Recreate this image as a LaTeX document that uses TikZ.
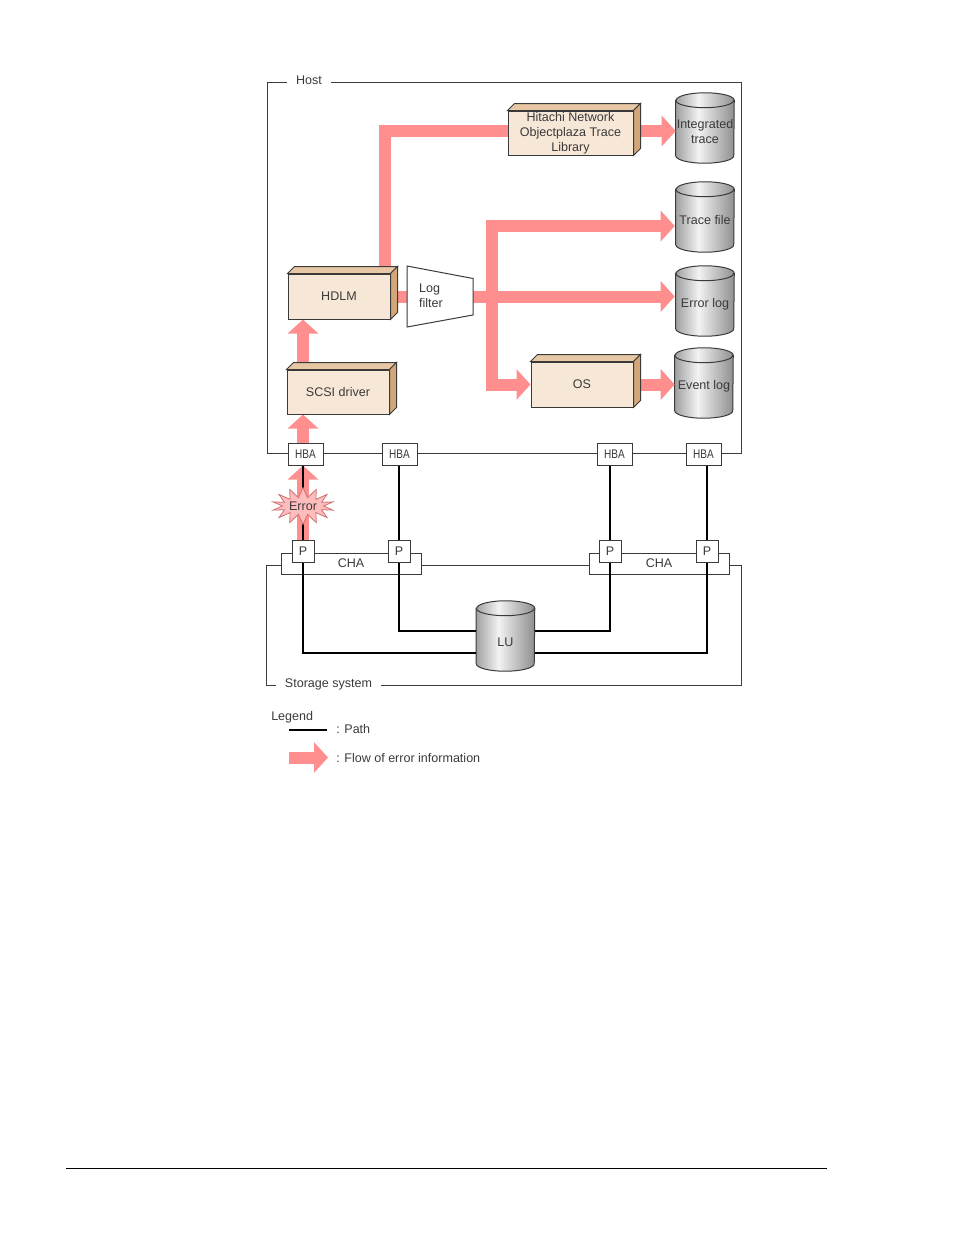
\documentclass[tikz,border=0pt]{standalone}
\usepackage{fontspec}
\setmainfont{Liberation Sans}
\usetikzlibrary{arrows.meta,backgrounds,shapes.symbols}

\definecolor{flowpink}{HTML}{FF8F8F}
\definecolor{boxface}{HTML}{F7E7D7}
\definecolor{boxtop}{HTML}{E8C8A4}
\definecolor{boxside}{HTML}{D2A678}
\definecolor{inkgray}{HTML}{3A3A3A}

\newcommand{\narrowtext}[1]{\scalebox{0.8}[1]{#1}}
% outline of a cylinder, taken from the corners of its node
\newcommand{\drumoutline}[1]{([shift={(0,7.5)}]#1.north west) -- ([shift={(0,-7.5)}]#1.south west)
	arc[x radius=21.75pt, y radius=5.6pt, start angle=180, end angle=360]
	-- ([shift={(0,7.5)}]#1.north east)
	arc[x radius=21.75pt, y radius=5.6pt, start angle=0, end angle=180] -- cycle}

\tikzset{
	labeltext/.style={font=\fontsize{9.4}{11.2}\selectfont, text=inkgray, align=center, inner sep=0pt},
	edge/.style={draw=inkgray, line width=0.75pt},
	path line/.style={draw=black, line width=1pt},
	flow/.style={draw=flowpink, line width=9pt},
	flow tip/.style={flow, -{Triangle[length=10.5pt,width=22.5pt]}},
	crate/.style 2 args={labeltext, edge, fill=boxface, rectangle, minimum width=#1*0.75pt, minimum height=#2*0.75pt},
	port/.style 2 args={labeltext, edge, fill=white, rectangle, minimum width=#1*0.75pt, minimum height=#2*0.75pt},
	drum/.style={rectangle, inner sep=0pt, minimum width=43.5pt, minimum height=52.5pt},
	drum text/.style={labeltext, yshift=-2.4pt},
}

\begin{document}
\begin{tikzpicture}[x=0.75pt, y=-0.75pt]
	\useasboundingbox (0,0) rectangle (954,1235);

	% software boxes
	\node[crate={102}{45}] (hdlm) at (339,296.5) {HDLM};
	\node[crate={102}{44}] (scsi) at (338,392) {SCSI driver};
	\node[crate={125}{44}] (hnop) at (570.5,133) {Hitachi Network\\Objectplaza Trace\\Library};
	\node[crate={102}{45}] (os) at (582,384.5) {OS};
	\foreach \crt in {hdlm, scsi, hnop, os} {
		\filldraw[edge, fill=boxtop] (\crt.north west) -- ++(7,-7) -- ([shift={(7,-7)}]\crt.north east) -- (\crt.north east) -- cycle;
		\filldraw[edge, fill=boxside] (\crt.north east) -- ++(7,-7) -- ([shift={(7,-7)}]\crt.south east) -- (\crt.south east) -- cycle;
	}

	% log filter
	\node[labeltext, minimum width=49.5pt, minimum height=45.75pt] (filter) at (440,296.5) {};
	\draw[edge, fill=white] (407,266) -- (473,278.5) -- (473,315) -- (407,327) -- cycle;
	\node[labeltext, align=left] (filtertext) at (431,296) {Log\\filter};

	% files
	\node[drum, label={[drum text]center:Integrated\\trace}] (trace) at (705,128) {};
	\node[drum, label={[drum text]center:Trace file}] (tracefile) at (705,217) {};
	\node[drum, label={[drum text]center:Error log}] (errorlog) at (705,301) {};
	\node[drum, label={[drum text]center:Event log}] (eventlog) at (704,383) {};
	\node[drum, label={[drum text, yshift=-2pt]center:LU}] (lu) at (505.5,636) {};

	% host adapters
	\node[port={35}{22}] (hba1) at (305.5,454) {\narrowtext{HBA}};
	\node[port={35}{22}] (hba2) at (399.5,454) {\narrowtext{HBA}};
	\node[port={35}{22}] (hba3) at (614.5,454) {\narrowtext{HBA}};
	\node[port={35}{22}] (hba4) at (703.5,454) {\narrowtext{HBA}};

	% channel adapters and ports
	\node[port={140}{21}] (cha1) at (351,563.5) {CHA};
	\node[port={140}{21}] (cha2) at (659,563.5) {CHA};
	\node[port={22}{22}] (p1) at (303,551) {P};
	\node[port={22}{22}] (p2) at (399,551) {P};
	\node[port={22}{22}] (p3) at (610,551) {P};
	\node[port={22}{22}] (p4) at (707,551) {P};

	\coordinate (turn) at (384.5,131);
	\coordinate (bus) at (491.5,296.5);

	\begin{scope}[on background layer]
		\draw[edge] (267,82) rectangle (741.5,453.5);
		\draw[edge] (266,565) rectangle (741.5,685.5);
		\node[labeltext, fill=white, inner xsep=7pt, inner ysep=2pt] (hosttitle) at (309,80) {Host};
		\node[labeltext, fill=white, inner xsep=6.5pt, inner ysep=2pt] (storagetitle) at (328.5,684.5) {Storage system};

		% cylinder bodies sit under their labels, shaded with thin strips
		\foreach \drm in {trace, tracefile, errorlog, eventlog, lu} {
			\begin{scope}
				\clip \drumoutline{\drm};
				\foreach \i in {0,...,28} {
					\pgfmathsetmacro{\tone}{\i<11 ? 36-31*\i/11 : 5+37*(\i-11)/17}
					\fill[black!\tone] ([shift={(\i*2,-2)}]\drm.north west) rectangle ([shift={(\i*2+2.5,9)}]\drm.south west);
				}
			\end{scope}
			\draw[edge] \drumoutline{\drm};
			\draw[edge] ([shift={(0,7.5)}]\drm.north west) arc[x radius=21.75pt, y radius=5.6pt, start angle=180, end angle=360];
		}

		% error information
		\draw[flow tip] (p1.north) -- (p1 |- hba1.south);
		\draw[flow tip] (p1 |- hba1.north) -- (p1 |- scsi.south);
		\draw[flow tip] (p1 |- scsi.north) -- (p1 |- hdlm.south);
		\draw[flow] (turn |- hdlm.north) -- (turn) -- (turn -| hnop.west);
		\draw[flow] (hdlm.east) -- (filter.west);
		\draw[flow tip] (hnop.east |- turn) -- (trace.west |- turn);
		\draw[flow tip] (bus) |- ([shift={(-1,9)}]tracefile.west);
		\draw[flow tip] (filter.east) -- ([xshift=-0.75pt]filter.east -| errorlog.west);
		\draw[flow tip] (bus) |- (os.west);
		\draw[flow tip] (os.east) -- (eventlog.west |- os.east);
	\end{scope}

	% paths
	\draw[path line] (p1 |- hba1.south) -- (p1.north);
	\draw[path line] (p2 |- hba2.south) -- (p2.north);
	\draw[path line] (p3 |- hba3.south) -- (p3.north);
	\draw[path line] (p4 |- hba4.south) -- (p4.north);
	\draw[path line] (p1.south) |- ([shift={(0,17)}]lu.west);
	\draw[path line] (p2.south) |- ([shift={(0,-5)}]lu.west);
	\draw[path line] (p3.south) |- ([shift={(0,-5)}]lu.east);
	\draw[path line] (p4.south) |- ([shift={(0,17)}]lu.east);

	\node[starburst, starburst points=14, starburst point height=7.5pt, random starburst=0,
		labeltext, draw=flowpink!80!black, fill=flowpink!60, line width=0.6pt,
		minimum width=46pt, minimum height=27.75pt] (error) at (303,506) {Error};

	% legend
	\node[labeltext, anchor=west] (legend) at (271,717) {Legend};
	\coordinate (paths) at (289,730);
	\coordinate (pathe) at (327,730);
	\draw[path line] (paths) -- (pathe);
	\node[labeltext, anchor=west] (pathtext) at (336,729) {: Path};
	\coordinate (flows) at (289,757.5);
	\coordinate (flowe) at (328,757.5);
	\draw[flow tip] (flows) -- (flowe);
	\node[labeltext, anchor=west] (flowtext) at (336,758) {: Flow of error information};

	% page rule
	\coordinate (rules) at (66,1168.5);
	\coordinate (rulee) at (827,1168.5);
	\draw[black, line width=0.8pt] (rules) -- (rulee);
\end{tikzpicture}
\end{document}
